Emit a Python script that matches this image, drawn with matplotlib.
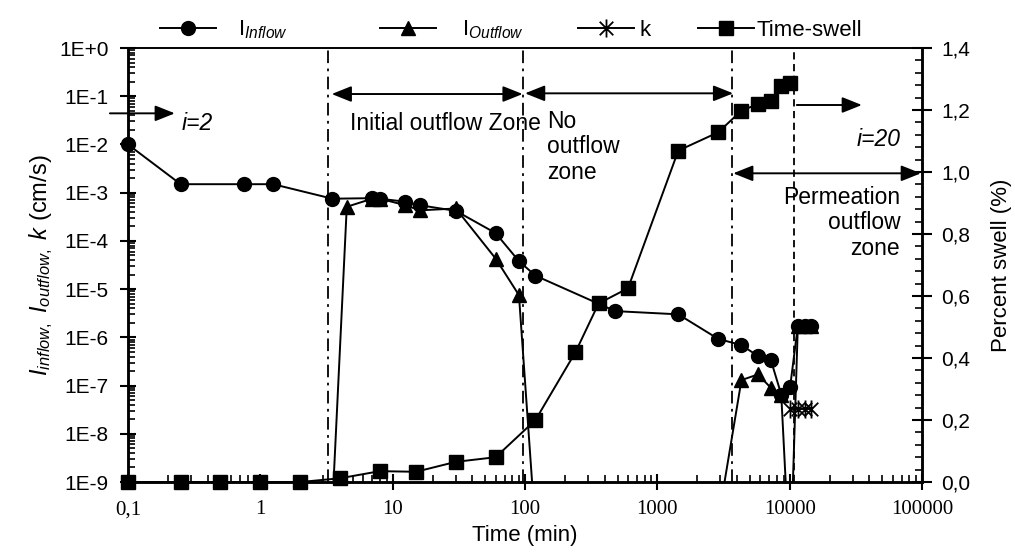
import numpy as np
import matplotlib
matplotlib.use('Agg')
import matplotlib.pyplot as plt
from matplotlib.lines import Line2D
from matplotlib.path import Path
from matplotlib.ticker import FixedLocator, FuncFormatter, LogLocator, MultipleLocator

plt.rcParams.update({
    'font.family': ['Liberation Sans', 'DejaVu Sans'],
    'mathtext.fontset': 'custom',
    'mathtext.rm': 'Liberation Sans',
    'mathtext.it': 'Liberation Sans:italic',
    'mathtext.bf': 'Liberation Sans:bold',
    'mathtext.default': 'it',
})

# %% data (time in min)
t_inflow = [0.1, 0.25, 0.75, 1.25, 3.5, 7, 8, 12.5, 16, 30, 60, 90, 120, 480, 1440,
            2880, 4320, 5760, 7200, 8640, 10080, 11520, 12960, 14400]
inflow = [1.0e-2, 1.5e-3, 1.5e-3, 1.5e-3, 7.5e-4, 7.7e-4, 7.5e-4, 6.5e-4, 5.5e-4, 4.2e-4,
          1.45e-4, 3.8e-5, 1.9e-5, 3.5e-6, 3.0e-6, 9.3e-7, 6.9e-7, 4.1e-7, 3.4e-7, 6.5e-8,
          9.5e-8, 1.7e-6, 1.7e-6, 1.7e-6]

t_outflow = [3.5, 4.5, 7, 8, 12.5, 16, 30, 60, 90, 120, 2880, 4320, 5760, 7200, 8640,
             10080, 11520, 12960, 14400]
outflow = [3e-10, 5.1e-4, 7.5e-4, 7.5e-4, 5.5e-4, 4.3e-4, 4.7e-4, 4.3e-5, 7.5e-6, 1e-10,
           1.6e-10, 1.3e-7, 1.7e-7, 9e-8, 6.3e-8, 1.5e-11, 1.7e-6, 1.7e-6, 1.7e-6]

t_k = [10080, 11520, 12960, 14400]
k_vals = [3.3e-8, 3.3e-8, 3.3e-8, 3.3e-8]

t_swell = [0.1, 0.25, 0.5, 1, 2, 4, 8, 15, 30, 60, 120, 240, 360, 600, 1440, 2880,
           4320, 5760, 7200, 8640, 10080]
swell = [0, 0, 0, 0, 0, 0.012, 0.035, 0.033, 0.065, 0.08, 0.2, 0.418, 0.576, 0.625,
         1.069, 1.128, 1.198, 1.219, 1.229, 1.277, 1.286]

x_ticks = [0.1, 1, 10, 100, 1000, 10000, 100000]
y_ticks = [1e-9, 1e-8, 1e-7, 1e-6, 1e-5, 1e-4, 1e-3, 1e-2, 1e-1, 1]

# zone boundaries
dashdot_lines = [3.23, 96, 3656]
dashed_line = 10820

# %% plot
fig = plt.figure(figsize=(10.15, 5.52), dpi=100)
ax = fig.add_axes([0.1261, 0.1268, 0.7823, 0.7862])
ax2 = ax.twinx()

lw = 1.4
star = Path([(0, -1), (0, 1), (-0.75, -0.75), (0.75, 0.75), (-0.75, 0.75), (0.75, -0.75)],
            [Path.MOVETO, Path.LINETO] * 3)

ax.plot(t_outflow, outflow, color='k', lw=lw, marker='^', ms=10.5)
ax.plot(t_inflow, inflow, color='k', lw=lw, marker='o', ms=10, clip_on=False)
ax.plot(t_k, k_vals, color='k', lw=lw, marker=star, ms=13, mew=1.3, mfc='none')
ax2.plot(t_swell, swell, color='k', lw=lw, marker='s', ms=9.5, clip_on=False, zorder=5)

for xv in dashdot_lines:
    ax.axvline(xv, color='k', lw=1.3, ls=(0, (7, 3, 1.5, 3)))
ax.axvline(dashed_line, color='k', lw=1.3, ls=(0, (4, 2.5)))

ax.set_xscale('log')
ax.set_yscale('log')
ax.set_xlim(0.1, 1e5)
ax.set_ylim(1e-9, 1)
ax2.set_ylim(0, 1.4)

ax.xaxis.set_major_locator(FixedLocator(x_ticks))
ax.xaxis.set_minor_locator(LogLocator(subs=np.arange(2, 10), numticks=100))
ax.yaxis.set_major_locator(FixedLocator(y_ticks))
ax.yaxis.set_minor_locator(LogLocator(subs=np.arange(2, 10), numticks=100))
ax.xaxis.set_major_formatter(FuncFormatter(lambda v, p: f'{v:g}'.replace('.', ',')))
ax.yaxis.set_major_formatter(FuncFormatter(lambda v, p: f'1E{int(round(np.log10(v))):+d}'))
ax2.yaxis.set_major_locator(MultipleLocator(0.2))
ax2.yaxis.set_minor_locator(MultipleLocator(0.04))
ax2.yaxis.set_major_formatter(FuncFormatter(lambda v, p: f'{v:.1f}'.replace('.', ',')))

ax.tick_params(axis='x', which='major', direction='inout', length=12, width=1.5,
               labelsize=15, pad=7, labelfontfamily='Liberation Serif')
ax.tick_params(axis='x', which='minor', direction='in', length=5, width=1.2)
ax.tick_params(axis='y', which='major', direction='inout', length=12, width=1.5,
               labelsize=15, pad=8)
ax.tick_params(axis='y', which='minor', direction='in', length=5, width=1.2)
ax2.tick_params(axis='y', which='major', direction='inout', length=14, width=1.5,
                labelsize=15, pad=7)
ax2.tick_params(axis='y', which='minor', direction='in', length=5, width=1.2)

for a in (ax, ax2):
    for s in ('left', 'right', 'bottom'):
        a.spines[s].set_linewidth(1.8)
    a.spines['top'].set_linewidth(1.2)

ax.set_xlabel('Time (min)', fontsize=16, labelpad=4)
ax.set_ylabel(r'$I_{inflow,}\ I_{outflow,}\ k$ (cm/s)', fontsize=17, labelpad=3)
ax2.set_ylabel('Percent swell (%)', fontsize=16, labelpad=15)

# %% zone arrows and notes
tr = ax.get_xaxis_transform()
def arrow(x1, x2, y, style):
    ax.annotate('', xy=(x2, y), xytext=(x1, y), xycoords=tr, textcoords=tr,
                annotation_clip=False,
                arrowprops=dict(arrowstyle=style + ',head_length=0.6,head_width=0.24',
                                color='k', lw=1.4, shrinkA=0, shrinkB=0, mutation_scale=20))

arrow(0.073, 0.226, 0.8495, '-|>')
arrow(3.46, 96, 0.894, '<|-|>')
arrow(100, 3740, 0.8956, '<|-|>')
arrow(11320, 35130, 0.8687, '-|>')
arrow(3740, 98100, 0.7113, '<|-|>')

ax.text(0.256, 0.8265, 'i=2', transform=tr, fontsize=16.5, style='italic', va='center')
ax.text(4.76, 0.8265, 'Initial outflow Zone', transform=tr, fontsize=16.5, va='center')
ax.text(146, 0.7726, 'No\noutflow\nzone', transform=tr, fontsize=16.5, va='center',
        linespacing=1.15)
ax.text(68400, 0.7896, 'i=20', transform=tr, fontsize=16.5, style='italic', va='center',
        ha='right')
ax.text(68400, 0.5975, 'Permeation\noutflow\nzone', transform=tr, fontsize=16.5,
        va='center', ha='right', multialignment='right', linespacing=1.15)

# %% legend, one box per entry to get the spacing of the original
entries = [
    (Line2D([], [], color='k', lw=lw, marker='o', ms=10), r'I$_{\mathit{Inflow}}$', 160, 1.0),
    (Line2D([], [], color='k', lw=lw, marker='^', ms=10.5), r'I$_{\mathit{Outflow}}$', 380, 1.2),
    (Line2D([], [], color='k', lw=lw, marker=star, ms=13, mew=1.3, mfc='none'), 'k', 578, 0.25),
    (Line2D([], [], color='k', lw=lw, marker='s', ms=9.5), 'Time-swell', 698, 0.15),
]
for h, lab, xpx, pad in entries:
    fig.legend(handles=[h], labels=[lab], loc='center left',
               bbox_to_anchor=(xpx / 1015, 1 - 30 / 552), frameon=False, fontsize=16,
               handlelength=2.5, handletextpad=pad, borderpad=0, borderaxespad=0)

fig.savefig('out.png', dpi=100)
